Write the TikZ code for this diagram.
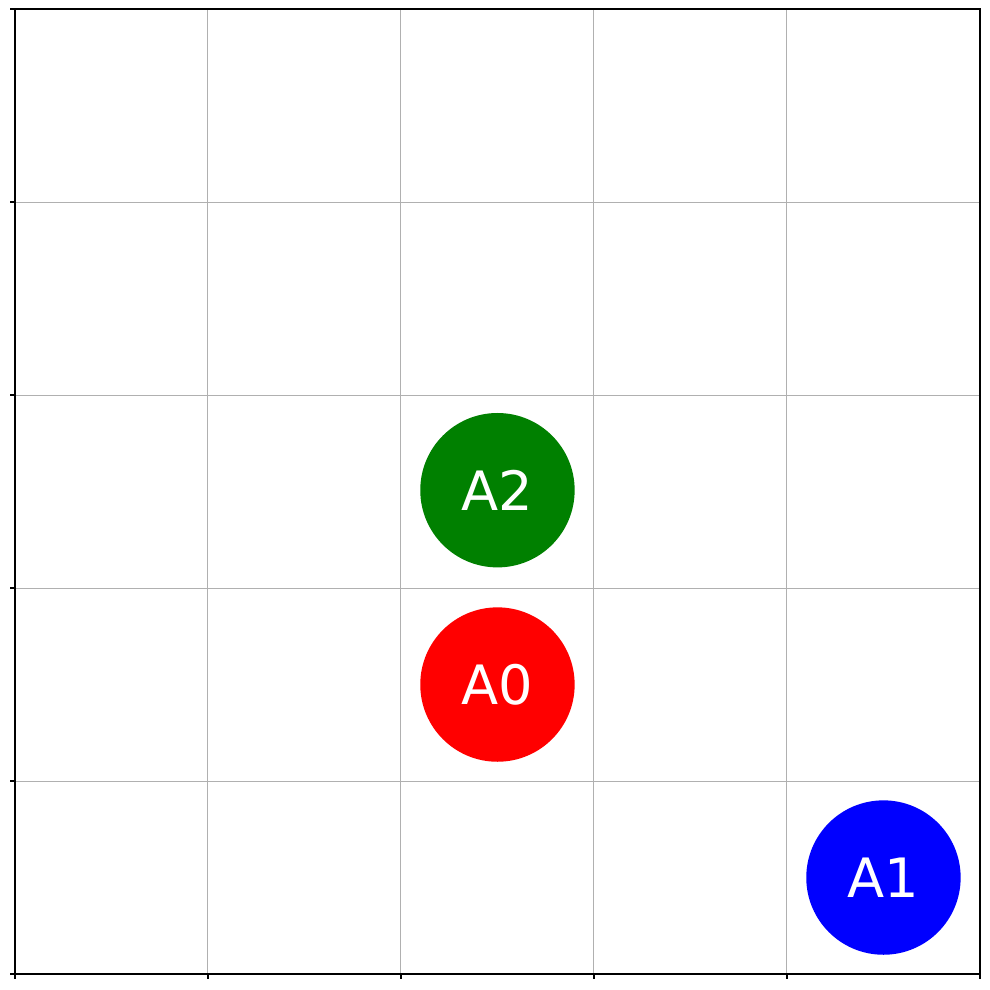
\documentclass[tikz,border=0pt]{standalone}
\usepackage{fontspec}
\setmainfont{DejaVu Sans}
\usepackage{xcolor}
\usetikzlibrary{positioning}
\definecolor{gridgray}{HTML}{B0B0B0}
\definecolor{agentred}{RGB}{255,0,0}
\definecolor{agentgreen}{RGB}{0,128,0}
\definecolor{agentblue}{RGB}{0,0,255}

\begin{document}
\begin{tikzpicture}[
    gridline/.style={gridgray, line width=0.3pt},
    spine/.style={black, line width=0.45pt},
    tick/.style={black, line width=0.45pt},
    agent/.style={circle, minimum size=1.6cm, inner sep=0pt, text=white, font=\fontsize{16}{16}\selectfont},
    a0/.style={agent, fill=agentred},
    a1/.style={agent, fill=agentblue},
    a2/.style={agent, fill=agentgreen}
]
\useasboundingbox (-0.155,-0.155) rectangle (10.104,10.094);

% Grid
\foreach \i in {1,...,4} {
    \draw[gridline] (2*\i,0) -- (2*\i,10);
    \draw[gridline] (0,2*\i) -- (10,2*\i);
}

% Frame
\draw[spine] (0,0) rectangle (10,10);

% Ticks
\foreach \i in {0,...,5} {
    \draw[tick] (2*\i,0) -- (2*\i,-0.055);
    \draw[tick] (0,2*\i) -- (-0.055,2*\i);
}

% Agents
\node[a0] (agent0) at (5,3) {A0};
\node[a2, above=0.4cm of agent0] (agent2) {A2};
\node[a1] (agent1) at (9,1) {A1};

\end{tikzpicture}
\end{document}
